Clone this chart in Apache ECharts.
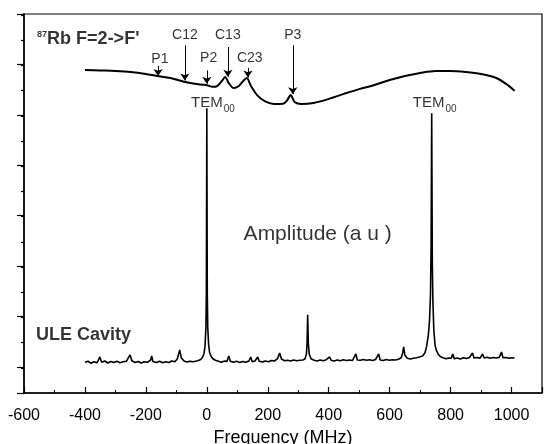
<!DOCTYPE html>
<html><head><meta charset="utf-8">
<script src="https://cdn.jsdelivr.net/npm/echarts@6/dist/echarts.min.js"></script>
<style>html,body{margin:0;padding:0;background:#fff}#c{width:547px;height:444px}</style>
</head><body><div id="c"></div>
<script>
// Rb saturated absorption trace (upper)
const rbFreq = [-400,-350,-300,-250,-200,-164,-120,-75,-40,-3,20,35,50,60,72,88,105,120,131,145,165,190,220,250,264,275,288,310,350,400,450,500,550,600,650,700,750,800,850,900,950,990,1010];
const rbAmp  = [12.82,12.80,12.78,12.74,12.66,12.58,12.50,12.35,12.27,12.22,12.15,12.19,12.39,12.54,12.30,12.10,12.18,12.39,12.50,12.18,11.82,11.58,11.47,11.48,11.62,11.83,11.55,11.47,11.51,11.67,11.87,12.06,12.22,12.42,12.58,12.70,12.78,12.78,12.74,12.66,12.50,12.20,11.99];
// ULE cavity transmission trace (lower)
const uleFreq = [-400,-390,-380,-370,-360,-351,-345,-335,-325,-315,-305,-295,-285,-275,-264,-258,-252,-246,-235,-225,-215,-205,-195,-185,-181,-177,-165,-155,-145,-135,-125,-115,-105,-97,-89,-84,-75,-65,-55,-45,-30,-20,-14,-9,-6,-3,-1.5,0,1.5,3,6,9,14,20,28,38,48,58,66,72,77,88,98,108,118,128,138,144,149,158,167,172,182,192,202,212,222,232,239,245,255,265,275,285,295,305,315,322,327,329,331,333,336,342,352,362,372,382,392,398,403,408,418,428,438,448,458,468,478,484,489,494,504,514,524,534,544,554,559,564,569,579,589,599,609,619,629,638,643,646,650,658,668,678,688,698,708,716,721,727,731,734,736,738,740,742,745,749,753,759,766,775,785,795,802,807,812,822,832,842,852,862,867,872,877,887,897,901,905,910,920,930,940,950,960,967,972,982,992,1000,1010];
const uleAmp  = [1.22,1.26,1.18,1.24,1.20,1.43,1.22,1.27,1.19,1.25,1.21,1.26,1.20,1.24,1.26,1.30,1.51,1.28,1.21,1.25,1.19,1.24,1.22,1.30,1.47,1.25,1.21,1.26,1.20,1.24,1.21,1.27,1.24,1.35,1.71,1.40,1.27,1.23,1.26,1.24,1.28,1.33,1.42,1.58,1.85,2.6,4.0,11.3,4.0,2.6,1.9,1.62,1.45,1.36,1.30,1.26,1.22,1.27,1.25,1.47,1.26,1.22,1.26,1.21,1.25,1.22,1.27,1.43,1.24,1.27,1.43,1.26,1.23,1.27,1.24,1.29,1.27,1.36,1.59,1.35,1.28,1.30,1.27,1.31,1.28,1.30,1.31,1.35,1.55,2.0,3.1,2.0,1.55,1.36,1.30,1.27,1.31,1.28,1.32,1.31,1.43,1.30,1.27,1.31,1.28,1.32,1.29,1.31,1.29,1.33,1.55,1.31,1.30,1.33,1.30,1.32,1.29,1.33,1.32,1.55,1.31,1.29,1.33,1.30,1.32,1.31,1.34,1.40,1.6,1.83,1.50,1.38,1.35,1.38,1.40,1.43,1.47,1.6,1.83,2.3,2.9,3.9,5.8,11.1,5.2,3.6,2.5,1.9,1.7,1.55,1.45,1.40,1.36,1.39,1.38,1.55,1.36,1.39,1.35,1.40,1.37,1.41,1.40,1.59,1.39,1.41,1.38,1.40,1.55,1.39,1.42,1.38,1.41,1.39,1.42,1.63,1.40,1.41,1.38,1.40,1.39];
// x-axis ticks
const xMin = -600, xMax = 1100, xStep = 200;
// annotations: [x, y, text]
const peakLabels = [[-154,13.25,'P1'],[-72,14.2,'C12'],[6,13.3,'P2'],[69,14.2,'C13'],[141,13.3,'C23'],[282,14.2,'P3']];
// arrows: [x, yStart, yEnd]
const arrows = [[-160,12.98,12.58],[-72,13.8,12.40],[0,12.8,12.27],[69,13.73,12.55],[135,12.9,12.52],[282,13.8,11.86]];
const temLabels = [[20,11.5],[748,11.5]];
const traceLabels = [[-557,14.05,'rb'],[-561,2.3,'ule']];
const axisTitle = 'Frequency (MHz)';
const midText = 'Amplitude (a u )';
const midPos = [364, 6.3];

const zip = (a,b)=>a.map((v,i)=>[v,b[i]]);
const font = 'Liberation Sans, Arial, sans-serif';
const chart = echarts.init(document.getElementById('c'), null, {renderer:'canvas'});
chart.setOption({
  animation:false,
  backgroundColor:'#fff',
  grid:{left:24,right:5,top:14,bottom:51,outerBoundsMode:'none',containLabel:false,show:true,borderColor:'#000',borderWidth:1.2,backgroundColor:'transparent'},
  xAxis:{type:'value',min:xMin,max:xMax,interval:xStep,
    name:axisTitle,nameLocation:'middle',nameGap:34,
    nameTextStyle:{fontFamily:font,fontSize:18,color:'#000'},
    axisLine:{show:true,onZero:false,lineStyle:{color:'#000',width:1.5}},
    axisTick:{show:true,inside:true,length:6,lineStyle:{color:'#000',width:1.2}},
    minorTick:{show:true,splitNumber:2,length:3,lineStyle:{color:'#000',width:1}},
    axisLabel:{fontFamily:font,fontSize:16,color:'#000',margin:15,formatter:v=>v===1100?'':String(v)},
    splitLine:{show:false}},
  yAxis:[
    {type:'value',min:0,max:15.04,interval:1,
     axisLine:{show:true,onZero:false,lineStyle:{color:'#000',width:1.5}},
     axisTick:{show:true,inside:false,length:3,lineStyle:{color:'#000',width:1.2}},
     axisLabel:{show:false},splitLine:{show:false}},
    {type:'value',min:0,max:15.04,interval:2,inverse:true,position:'left',
     axisLine:{show:false,onZero:false},
     axisTick:{show:true,inside:false,length:7,lineStyle:{color:'#000',width:1.2}},
     axisLabel:{show:false},splitLine:{show:false}}
  ],
  series:[
    {type:'line',data:zip(rbFreq,rbAmp),smooth:0.3,symbol:'none',lineStyle:{color:'#000',width:2},silent:true},
    {type:'line',data:zip(uleFreq,uleAmp),symbol:'none',lineStyle:{color:'#000',width:1.6},silent:true},
    {type:'line',data:[],silent:true,
     markLine:{silent:true,symbol:['none','arrow'],symbolSize:7,animation:false,
       lineStyle:{color:'#000',width:1,type:'solid'},label:{show:false},
       data:arrows.map(a=>[{coord:[a[0],a[1]]},{coord:[a[0],a[2]]}])}},
    {type:'scatter',symbolSize:0,silent:true,data:peakLabels,
     label:{show:true,position:'inside',formatter:p=>p.value[2],fontFamily:font,fontSize:14,color:'#000'}},
    {type:'scatter',symbolSize:0,silent:true,data:temLabels,
     label:{show:true,position:'inside',formatter:'{t|TEM}{s|00}',
       rich:{t:{fontFamily:font,fontSize:15,color:'#000'},s:{fontFamily:font,fontSize:10,color:'#000',padding:[12,0,0,1]}}}},
    {type:'scatter',symbolSize:0,silent:true,data:traceLabels,
     label:{show:true,position:'inside',align:'left',
       formatter:p=>p.value[2]==='rb'?'{sup|87}{b|Rb F=2->F\'}':'{b|ULE Cavity}',
       rich:{sup:{fontFamily:font,fontSize:9,fontWeight:'bold',color:'#000',padding:[0,0,8,0]},
             b:{fontFamily:font,fontSize:18,fontWeight:'bold',color:'#000'}}}},
    {type:'scatter',symbolSize:0,silent:true,data:[midPos],
     label:{show:true,position:'inside',formatter:midText,fontFamily:font,fontSize:21,color:'#000'}}
  ]
});
</script></body></html>
